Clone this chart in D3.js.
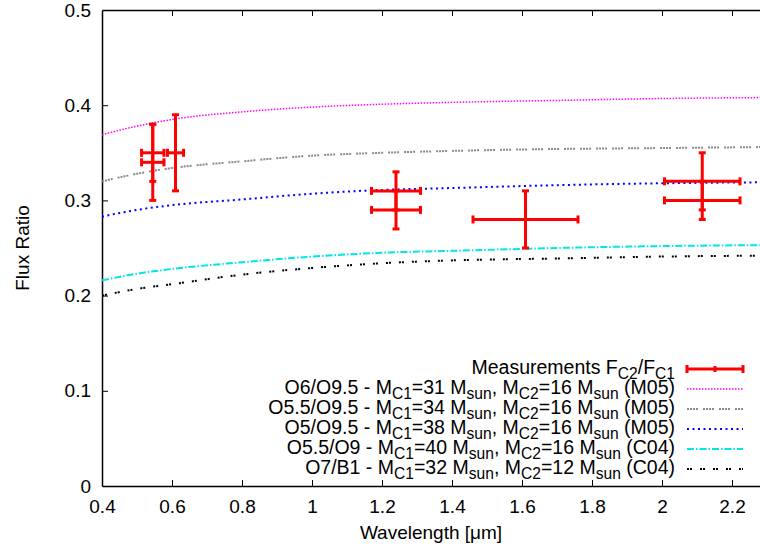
<!DOCTYPE html>
<html>
<head>
<meta charset="utf-8">
<script src="https://cdn.jsdelivr.net/npm/d3@7"></script>
<style>
  html, body { margin: 0; padding: 0; background: #fff; }
  svg { display: block; }
  text { font-family: "Liberation Sans", Arial, sans-serif; fill: #000; }
</style>
</head>
<body>
<svg id="chart" width="760" height="551"></svg>
<script>
// ---------- data ----------
const xTicks = [0.4, 0.6, 0.8, 1, 1.2, 1.4, 1.6, 1.8, 2, 2.2];
const yTicks = [0, 0.1, 0.2, 0.3, 0.4, 0.5];

// measurements: wavelength, x half-width, flux ratio, lower, upper
const measX    = [0.545, 0.545, 0.61, 1.24, 1.24, 1.61, 2.115, 2.115];
const measXErr = [0.032, 0.032, 0.023, 0.07, 0.07, 0.15, 0.108, 0.108];
const measY    = [0.35, 0.34, 0.35, 0.31, 0.29, 0.28, 0.32, 0.30];
const measYLo  = [0.32, 0.30, 0.31, 0.29, 0.27, 0.25, 0.29, 0.28];
const measYHi  = [0.38, 0.38, 0.39, 0.33, 0.31, 0.31, 0.35, 0.32];

// model curves, sampled at these wavelengths
const curveX = [0.4, 0.5, 0.6, 0.8, 1.0, 1.2, 1.4, 1.7, 2.0, 2.28];
const curveM05a = [0.369, 0.378, 0.385, 0.393, 0.398, 0.401, 0.403, 0.405, 0.407, 0.408];
const curveM05b = [0.320, 0.328, 0.334, 0.341, 0.347, 0.350, 0.352, 0.354, 0.355, 0.356];
const curveM05c = [0.283, 0.290, 0.295, 0.301, 0.307, 0.311, 0.313, 0.316, 0.318, 0.319];
const curveC04a = [0.216, 0.223, 0.228, 0.235, 0.241, 0.245, 0.247, 0.250, 0.252, 0.253];
const curveC04b = [0.200, 0.207, 0.212, 0.222, 0.229, 0.234, 0.237, 0.239, 0.241, 0.242];

const seriesNames = [
  [["O6/O9.5 - M"], ["C1", true], ["=31 M"], ["sun", true], [", M"], ["C2", true], ["=16 M"], ["sun", true], [" (M05)"]],
  [["O5.5/O9.5 - M"], ["C1", true], ["=34 M"], ["sun", true], [", M"], ["C2", true], ["=16 M"], ["sun", true], [" (M05)"]],
  [["O5/O9.5 - M"], ["C1", true], ["=38 M"], ["sun", true], [", M"], ["C2", true], ["=16 M"], ["sun", true], [" (M05)"]],
  [["O5.5/O9 - M"], ["C1", true], ["=40 M"], ["sun", true], [", M"], ["C2", true], ["=16 M"], ["sun", true], [" (C04)"]],
  [["O7/B1 - M"], ["C1", true], ["=32 M"], ["sun", true], [", M"], ["C2", true], ["=12 M"], ["sun", true], [" (C04)"]]
];
const measName = [["Measurements F"], ["C2", true], ["/F"], ["C1", true]];

// ---------- layout ----------
const svg = d3.select("#chart");
const L = 102, R = 760, T = 10, B = 486;
const x = d3.scaleLinear().domain([0.4, 2.28]).range([L, R]);
const y = d3.scaleLinear().domain([0, 0.5]).range([B, T]);
const FS = 19, LFS = 19.5;

const styles = [
  { color: "#ff00ff", width: 1.5, dash: "1.5,1.5" },
  { color: "#8a8a8a", width: 2,   dash: "2,1,2,1,2,1,2,5" },
  { color: "#0000ff", width: 2,   dash: "2,3.5" },
  { color: "#00e5e5", width: 2,   dash: "7,2,1.5,2" },
  { color: "#000000", width: 2,   dash: "2,1,2,8" }
];
const curves = [curveM05a, curveM05b, curveM05c, curveC04a, curveC04b];

svg.append("defs").append("clipPath").attr("id", "clip")
  .append("rect").attr("x", L).attr("y", T).attr("width", R - L).attr("height", B - T);

// axes
const axB = svg.append("g").attr("transform", `translate(0,${B})`)
  .call(d3.axisBottom(x).tickValues(xTicks).tickSizeInner(-6).tickSizeOuter(0).tickPadding(14)
    .tickFormat(d => d3.format("")(d)));
const axT = svg.append("g").attr("transform", `translate(0,${T})`)
  .call(d3.axisTop(x).tickValues(xTicks).tickSizeInner(-6).tickSizeOuter(0).tickFormat(""));
const axL = svg.append("g").attr("transform", `translate(${L},0)`)
  .call(d3.axisLeft(y).tickValues(yTicks).tickSizeInner(-6).tickSizeOuter(0).tickPadding(11)
    .tickFormat(d => d3.format("")(d)));
[axB, axT, axL].forEach(g => {
  g.select(".domain").attr("stroke", "#000").attr("stroke-width", 1.5);
  g.selectAll(".tick line").attr("stroke", "#000").attr("stroke-width", 1);
  g.selectAll(".tick text").attr("font-size", FS).attr("font-family", "Liberation Sans, Arial, sans-serif").attr("fill", "#000");
});
axB.selectAll(".tick text").attr("dy", "0.71em");
axB.selectAll(".tick").filter(d => d === 0.4).select("line").remove();
axT.selectAll(".tick").filter(d => d === 0.4).select("line").remove();
axL.selectAll(".tick").filter(d => d === 0 || d === 0.5).select("line").remove();

// axis titles
svg.append("text").attr("x", 431).attr("y", 539).attr("text-anchor", "middle")
  .attr("font-size", FS).text("Wavelength [μm]");
svg.append("text").attr("transform", "translate(29,248) rotate(-90)").attr("text-anchor", "middle")
  .attr("font-size", FS).text("Flux Ratio");

// curves
const plot = svg.append("g").attr("clip-path", "url(#clip)");
const line = d3.line().x(d => x(d[0])).y(d => y(d[1])).curve(d3.curveMonotoneX);
curves.forEach((c, i) => {
  plot.append("path")
    .datum(curveX.map((v, k) => [v, c[k]]))
    .attr("d", line)
    .attr("fill", "none")
    .attr("stroke", styles[i].color)
    .attr("stroke-width", styles[i].width)
    .attr("stroke-dasharray", styles[i].dash);
});

// measurements with error bars
const red = "#ff0000";
const eb = plot.append("g").attr("stroke", red).attr("stroke-width", 3).attr("fill", "none");
measX.forEach((mx, i) => {
  const cx = x(mx), cy = y(measY[i]);
  const x0 = x(mx - measXErr[i]), x1 = x(mx + measXErr[i]);
  const y0 = y(measYLo[i]), y1 = y(measYHi[i]);
  eb.append("line").attr("x1", x0).attr("x2", x1).attr("y1", cy).attr("y2", cy);
  eb.append("line").attr("x1", cx).attr("x2", cx).attr("y1", y0).attr("y2", y1);
  eb.append("line").attr("x1", x0).attr("x2", x0).attr("y1", cy - 4).attr("y2", cy + 4);
  eb.append("line").attr("x1", x1).attr("x2", x1).attr("y1", cy - 4).attr("y2", cy + 4);
  eb.append("line").attr("x1", cx - 3.5).attr("x2", cx + 3.5).attr("y1", y0).attr("y2", y0);
  eb.append("line").attr("x1", cx - 3.5).attr("x2", cx + 3.5).attr("y1", y1).attr("y2", y1);
});

// legend
const legTextX = 675, legX0 = 687, legX1 = 743, legY0 = 369, legDY = 20;
function richText(g, parts, xPos, yPos) {
  const t = g.append("text").attr("x", xPos).attr("y", yPos).attr("text-anchor", "end").attr("font-size", LFS);
  let sub = false;
  parts.forEach(p => {
    const isSub = !!p[1];
    const ts = t.append("tspan").text(p[0]);
    if (isSub && !sub) ts.attr("dy", 4.5).attr("font-size", LFS * 0.8);
    else if (!isSub && sub) ts.attr("dy", -4.5);
    else if (isSub) ts.attr("font-size", LFS * 0.8);
    sub = isSub;
  });
  return t;
}
const leg = svg.append("g");
richText(leg, measName, legTextX, legY0 + 5);
leg.append("line").attr("x1", legX0).attr("x2", legX1).attr("y1", legY0).attr("y2", legY0)
  .attr("stroke", red).attr("stroke-width", 3);
[legX0, legX1].forEach(px => leg.append("line").attr("x1", px).attr("x2", px)
  .attr("y1", legY0 - 4).attr("y2", legY0 + 4).attr("stroke", red).attr("stroke-width", 3));
leg.append("line").attr("x1", (legX0 + legX1) / 2).attr("x2", (legX0 + legX1) / 2)
  .attr("y1", legY0 - 3).attr("y2", legY0 + 3).attr("stroke", red).attr("stroke-width", 3);

seriesNames.forEach((parts, i) => {
  const ly = legY0 + legDY * (i + 1);
  richText(leg, parts, legTextX, ly + 5);
  leg.append("line").attr("x1", legX0).attr("x2", legX1).attr("y1", ly).attr("y2", ly)
    .attr("stroke", styles[i].color).attr("stroke-width", styles[i].width)
    .attr("stroke-dasharray", styles[i].dash);
});
</script>
</body>
</html>
